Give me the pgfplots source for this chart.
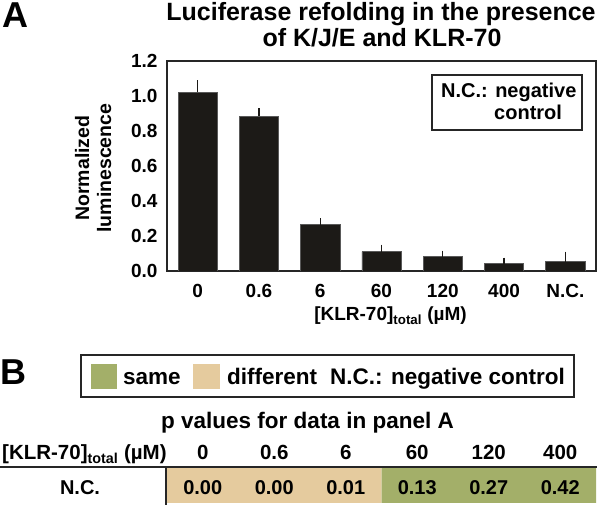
\documentclass[border=0pt]{standalone}
\usepackage{pgfplots}
\pgfplotsset{compat=1.18}
\usepackage{pgfplotstable}
\usepackage{fontspec}
\setmainfont{Liberation Sans}
\definecolor{barcol}{HTML}{1C1A17}
\definecolor{samecol}{HTML}{A3AF69}
\definecolor{diffcol}{HTML}{E5CB9E}
\newcommand{\fs}[1]{\bfseries\fontsize{#1}{#1}\selectfont}

\pgfplotstableread{
x y e
0 1.02 0.05
1 0.885 0.025
2 0.265 0.015
3 0.11 0.02
4 0.083 0.014
5 0.042 0.015
6 0.053 0.037
}\lumdata

\pgfplotstableread{
x y p
0 1 0.00
1 1 0.00
2 1 0.01
}\diffdata

\pgfplotstableread{
x y p
3 1 0.13
4 1 0.27
5 1 0.42
}\samedata

\begin{document}
\begin{tikzpicture}[x=1pt,y=1pt]
\useasboundingbox (0,0) rectangle (600,505);

% ---------- Panel A ----------
\node[anchor=base west, inner sep=0, font=\fs{36}] at (2,477) {A};
\node[anchor=base, inner sep=0, font=\fs{25}] at (381,484.5) {Luciferase refolding in the presence};
\node[anchor=base, inner sep=0, font=\fs{25}] at (382,458) {of K/J/E and KLR-70};

\begin{axis}[
  at={(167pt,234pt)}, anchor=south west,
  scale only axis, width=429pt, height=210pt,
  xmin=-0.5, xmax=6.5, ymin=0, ymax=1.2,
  xtick={0,...,6},
  xticklabels={0,0.6,6,60,120,400,N.C.},
  ytick={0,0.2,...,1.2},
  major tick length=0pt,
  axis line style={line width=1.5pt, black!85},
  /pgf/number format/assume math mode=true,
  yticklabel style={/pgf/number format/fixed, /pgf/number format/fixed zerofill, /pgf/number format/precision=1},
  tick label style={font=\fs{19}},
  yticklabel style={/tikz/xshift=-6pt},
  xticklabel style={anchor=base, yshift=-27pt},
  every axis x label/.style={at={(axis description cs:0.521,0)}, anchor=base, yshift=-50pt, font=\fs{19}},
  xlabel={[KLR-70]\textsubscript{total} (µM)},
  every axis y label/.style={at={(axis description cs:-0.172,0.49)}, rotate=90, anchor=center, align=center, font=\bfseries\fontsize{19.5}{22}\selectfont},
  ylabel={Normalized\\luminescence},
]
\addplot[ybar, bar width=0.64, fill=barcol, draw=black!65, line width=0.6pt,
  error bars/.cd, y dir=plus, y explicit,
  error bar style={line width=1.3pt, barcol},
  error mark options={line width=1.3pt, mark size=3.5pt, barcol}]
  table[x=x, y=y, y error=e] {\lumdata};
\end{axis}

\draw[line width=2pt, black!85] (432,430) rectangle (582,375);
\node[anchor=base west, inner sep=0, font=\fs{20}] at (441,407) {N.C.: negative};
\node[anchor=base west, inner sep=0, font=\fs{20}] at (494,385) {control};

% ---------- Panel B ----------
\node[anchor=base west, inner sep=0, font=\fs{36}] at (0,120) {B};
\draw[line width=2.5pt, black!85] (81,150) rectangle (574,108);
\fill[samecol] (91,141) rectangle (117,116);
\fill[diffcol] (193,141) rectangle (220,116);
\node[anchor=base west, inner sep=0, font=\fs{22.5}] at (123,120) {same};
\node[anchor=base west, inner sep=0, font=\fs{22.5}] at (227,120) {different};
\node[anchor=base west, inner sep=0, font=\fs{22.5}] at (330,120) {N.C.: negative control};

\node[anchor=base, inner sep=0, font=\fs{22.5}] at (307.5,76) {p values for data in panel A};
\node[anchor=base west, inner sep=0, font=\fs{20.5}] at (2,45) {[KLR-70]\textsubscript{total} (µM)};
\node[anchor=base, inner sep=0, font=\fs{20}] at (80,10) {N.C.};

\begin{axis}[
  at={(167pt,2pt)}, anchor=south west,
  scale only axis, width=429pt, height=35pt,
  xmin=-0.5, xmax=5.5, ymin=0, ymax=1,
  axis line style={draw=none},
  major tick length=0pt,
  ytick=\empty,
  xtick={0,...,5},
  xticklabels={0,0.6,6,60,120,400},
  xticklabel pos=upper,
  xticklabel style={anchor=base, yshift=8pt, font=\fs{20.5}},
  clip=false,
]
\addplot[ybar, bar width=1, bar shift=0pt, fill=diffcol, draw=none,
  nodes near coords, point meta=explicit symbolic,
  every node near coord/.append style={anchor=base, yshift=-27pt, font=\fs{20}}]
  table[x=x, y=y, meta=p] {\diffdata};
\addplot[ybar, bar width=1, bar shift=0pt, fill=samecol, draw=none,
  nodes near coords, point meta=explicit symbolic,
  every node near coord/.append style={anchor=base, yshift=-27pt, font=\fs{20}}]
  table[x=x, y=y, meta=p] {\samedata};
\end{axis}

\draw[line width=2pt, black!85] (0,38) -- (597,38);
\draw[line width=2pt, black!85] (166,38) -- (166,0);
\end{tikzpicture}
\end{document}
